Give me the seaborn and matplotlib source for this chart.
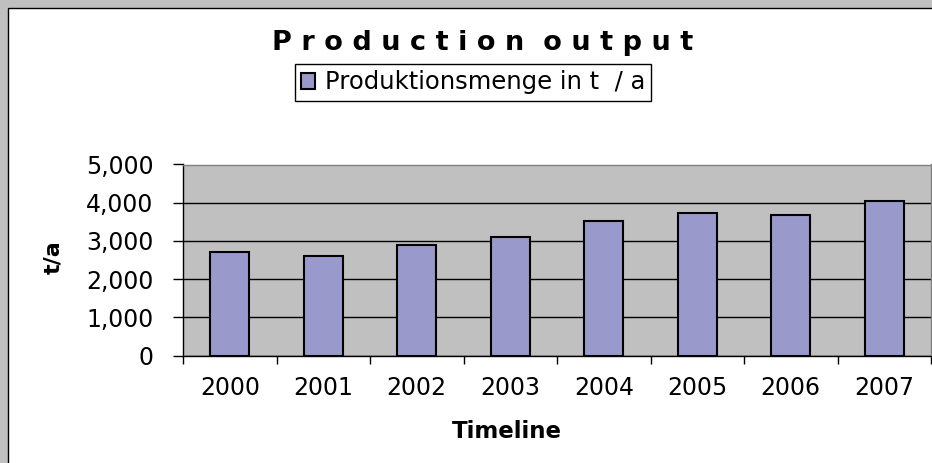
import matplotlib
matplotlib.use('Agg')
import matplotlib.pyplot as plt
from matplotlib.patches import Rectangle
from matplotlib.ticker import FuncFormatter
import seaborn as sns
import pandas as pd

years = ['2000', '2001', '2002', '2003', '2004', '2005', '2006', '2007']
output = [2700, 2610, 2890, 3110, 3530, 3720, 3680, 4050]
yticks = [0, 1000, 2000, 3000, 4000, 5000]
series_name = 'Produktionsmenge in t  / a'

sns.set_style('white')
plt.rcParams['font.family'] = ['DejaVu Sans']
plt.rcParams['text.color'] = 'black'
plt.rcParams['xtick.labelcolor'] = 'black'
plt.rcParams['ytick.labelcolor'] = 'black'

W, H = 932, 463
fig = plt.figure(figsize=(W / 100, H / 100), dpi=100, facecolor='#C0C0C0')
# white chart area with black frame (cropped on right / bottom)
fig.patches.append(Rectangle((7.5 / W, -0.1), 1.2, (H - 7.5) / H + 0.1,
                             transform=fig.transFigure, facecolor='white',
                             edgecolor='black', lw=1, zorder=-1))

ax = fig.add_axes([183 / W, 1 - 355.5 / H, (931 - 183) / W, (355.5 - 164.5) / H])
ax.set_facecolor('#C0C0C0')
ax.set_axisbelow(True)
ax.yaxis.grid(True, color='black', lw=1)

df = pd.DataFrame({'year': years, 'output': output})
sns.barplot(data=df, x='year', y='output', color='#9999CC', saturation=1,
            edgecolor='black', linewidth=1.5, width=0.42, ax=ax, label=series_name)

ax.set_xlim(-0.5, len(years) - 0.5)
ax.set_ylim(0, 5000)
ax.set_yticks(yticks)
ax.yaxis.set_major_formatter(FuncFormatter(lambda v, p: f'{int(v):,}'))
ax.set_xticks(range(len(years)))
ax.set_xticklabels(years)
ax.set_xticks([i - 0.5 for i in range(len(years) + 1)], minor=True)
ax.set_xlabel('')
ax.set_ylabel('')

ax.tick_params(axis='y', which='major', left=True, length=7.2, width=1, color='black',
               labelcolor='black', direction='out', pad=14, labelsize=17)
ax.tick_params(axis='x', which='major', bottom=True, length=0, pad=15, labelsize=17,
               labelcolor='black')
ax.tick_params(axis='x', which='minor', bottom=True, length=6, width=1, color='black',
               direction='out')

for side in ['left', 'bottom']:
    ax.spines[side].set_color('black')
    ax.spines[side].set_linewidth(1)
for side in ['top', 'right']:
    ax.spines[side].set_color('#808080')
    ax.spines[side].set_linewidth(1)

leg = ax.legend(loc='center', bbox_to_anchor=(473 / W, 1 - 82.5 / H),
                bbox_transform=fig.transFigure, frameon=True, fancybox=False,
                edgecolor='black', framealpha=1, fontsize=17.5, handlelength=0.6,
                handleheight=0.6, handletextpad=0.4, borderpad=0.25, borderaxespad=0)
leg.get_frame().set_linewidth(1)
for t in leg.get_texts():
    t.set_color('black')

fig.text(483 / W, 1 - 50 / H, 'P r o d u c t i o n  o u t p u t', fontsize=19.5,
         fontweight='bold', ha='center', va='baseline', color='black')
fig.text(53 / W, 1 - 257 / H, 't/a', fontsize=16, fontweight='bold', rotation=90,
         ha='center', va='center', color='black')
fig.text(507 / W, 1 - 437.5 / H, 'Timeline', fontsize=16.5, fontweight='bold',
         ha='center', va='baseline', color='black')

fig.savefig('out.png', dpi=100, facecolor=fig.get_facecolor())
